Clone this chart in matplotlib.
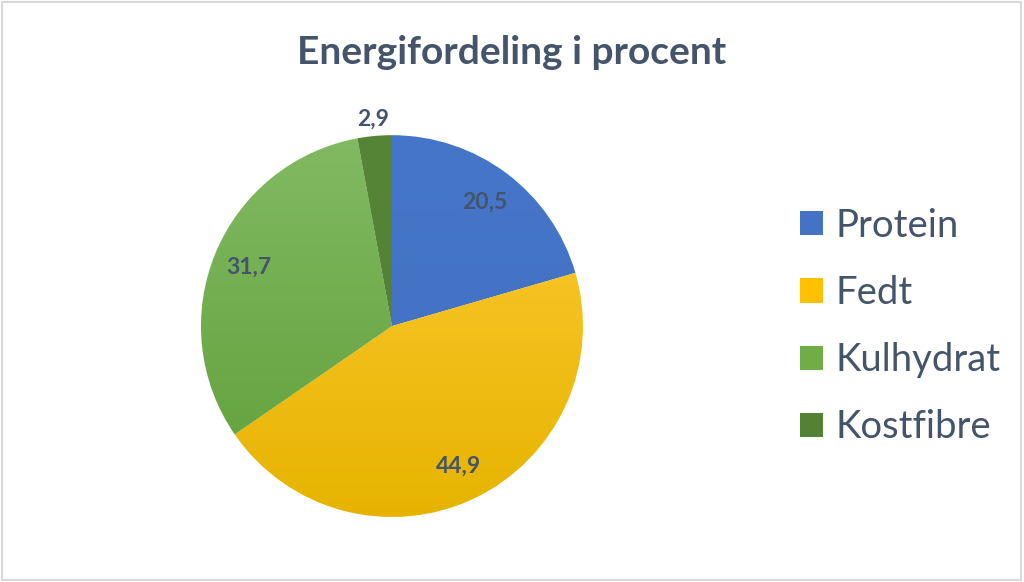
import numpy as np
import matplotlib.pyplot as plt
from matplotlib.patches import Rectangle, Patch
from matplotlib.colors import LinearSegmentedColormap

plt.rcParams['font.family'] = ['Lato', 'DejaVu Sans']

kategorier = ['Protein', 'Fedt', 'Kulhydrat', 'Kostfibre']
andele = [20.5, 44.9, 31.7, 2.9]
farver = ['#4472C4', '#FFC000', '#70AD47', '#548235']
# lys top -> mørk bund (Office-gradient)
farver_top = ['#4676CA', '#FFCB38', '#82BA63', '#568537']
farver_bund = ['#4270C0', '#E6B400', '#5F9E38', '#507F32']
tekstfarve = '#44546A'

fig = plt.figure(figsize=(10.24, 5.82), dpi=100)
fig.patch.set_facecolor('white')

ax = fig.add_axes([0.1963, 0.1117, 0.373, 0.656])
wedges, _ = ax.pie(andele, colors=farver, startangle=90, counterclock=False,
                   radius=1, wedgeprops=dict(linewidth=0.8, edgecolor='white'))
ax.set_xlim(-1, 1)
ax.set_ylim(-1, 1)
ax.set_aspect('equal')
ax.axis('off')

# gradient i hvert stykke
for w, c1, c2 in zip(wedges, farver_top, farver_bund):
    cmap = LinearSegmentedColormap.from_list('g', [c2, c1])
    grad = np.linspace(0, 1, 256).reshape(-1, 1)
    im = ax.imshow(grad, cmap=cmap, extent=(-1, 1, -1, 1), origin='lower',
                   aspect='auto', zorder=w.get_zorder() + 0.1)
    im.set_clip_path(w)

# dataetiketter
for w, v in zip(wedges, andele):
    mid = np.deg2rad((w.theta1 + w.theta2) / 2)
    d = 0.81 if v > 5 else 1.09
    ax.text(d * np.cos(mid), d * np.sin(mid), f'{v:.1f}'.replace('.', ','),
            ha='center', va='center', fontsize=16.5, fontweight='bold',
            color=tekstfarve, zorder=10, clip_on=False)

fig.text(0.5, 0.91, 'Energifordeling i procent', ha='center', va='center',
         fontsize=28, fontweight='bold', color=tekstfarve)

handles = [Patch(facecolor=c, edgecolor='none') for c in farver]
fig.legend(handles, kategorier, loc='center left', bbox_to_anchor=(0.748, 0.439),
           frameon=False, fontsize=27.5, handlelength=0.6, handleheight=0.6,
           handletextpad=0.32, labelspacing=0.82, labelcolor=tekstfarve)

fig.patches.append(Rectangle((0.002, 0.004), 0.995, 0.992, transform=fig.transFigure,
                             fill=False, edgecolor='#D9D9D9', linewidth=1.5))

fig.savefig('out.png', dpi=100)
